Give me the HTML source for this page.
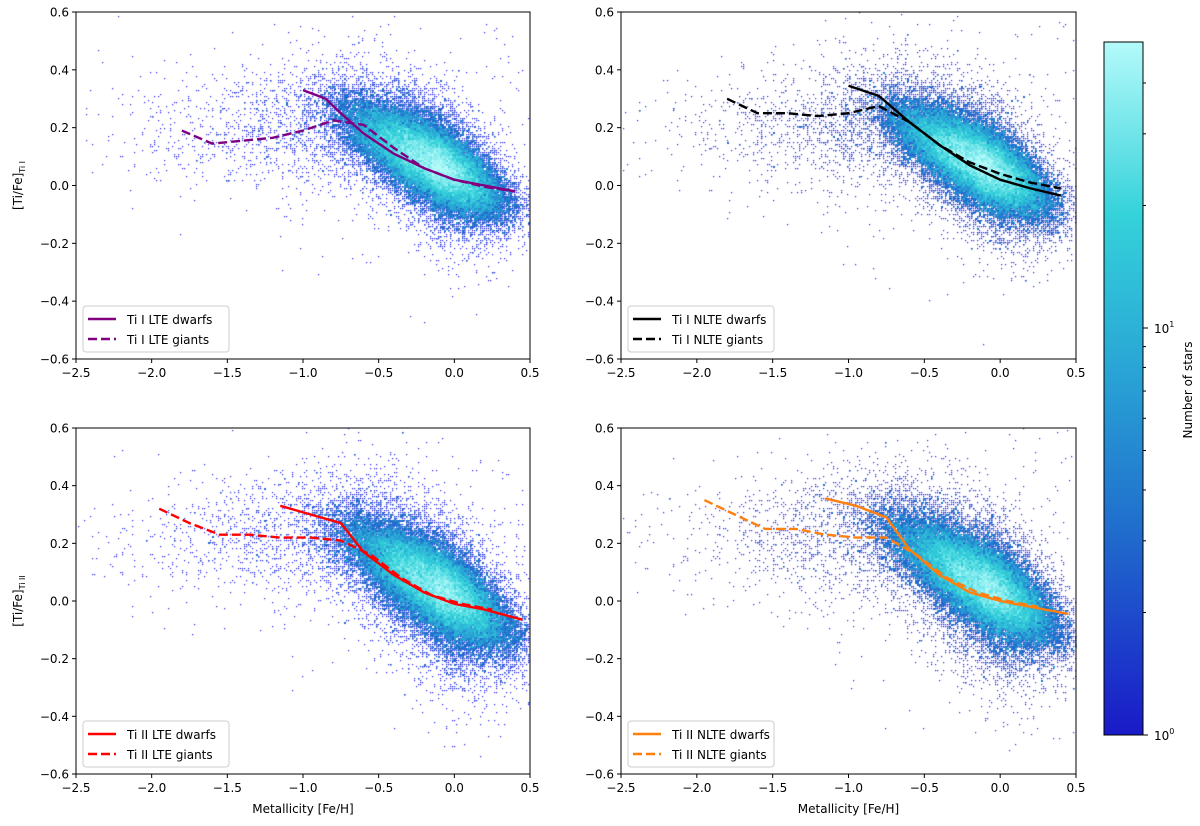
<!DOCTYPE html>
<html><head><meta charset="utf-8">
<style>
html,body{margin:0;padding:0;background:#fff;}
#wrap{position:relative;width:1200px;height:826px;overflow:hidden;font-family:"DejaVu Sans","Liberation Sans",sans-serif;}
canvas{position:absolute;left:0;top:0;}
svg{position:absolute;left:0;top:0;}
</style></head>
<body>
<div id="wrap">
<canvas id="cv" width="1200" height="826"></canvas>
<svg id="sv" width="1200" height="826"></svg>
</div>
<script>
// ---- data ----
const xTicks = [-2.5, -2.0, -1.5, -1.0, -0.5, 0.0, 0.5];
const yTicks = [-0.6, -0.4, -0.2, 0.0, 0.2, 0.4, 0.6];
const xTickLabels = ["\u22122.5","\u22122.0","\u22121.5","\u22121.0","\u22120.5","0.0","0.5"];
const yTickLabels = ["\u22120.6","\u22120.4","\u22120.2","0.0","0.2","0.4","0.6"];

const tlDwarfX = [-1.0,-0.85,-0.75,-0.6,-0.4,-0.2,0.0,0.2,0.4];
const tlDwarfY = [0.33,0.30,0.25,0.18,0.11,0.06,0.02,0.0,-0.02];
const tlGiantX = [-1.8,-1.6,-1.4,-1.2,-1.0,-0.8,-0.6,-0.4,-0.2,0.0,0.2,0.4];
const tlGiantY = [0.19,0.145,0.155,0.165,0.19,0.225,0.21,0.13,0.06,0.02,-0.005,-0.02];

const trDwarfX = [-1.0,-0.8,-0.6,-0.4,-0.2,0.0,0.2,0.4];
const trDwarfY = [0.345,0.31,0.22,0.14,0.07,0.02,-0.01,-0.035];
const trGiantX = [-1.8,-1.6,-1.4,-1.2,-1.0,-0.8,-0.6,-0.4,-0.2,0.0,0.2,0.4];
const trGiantY = [0.30,0.25,0.25,0.24,0.25,0.275,0.22,0.14,0.08,0.04,0.01,-0.01];

const blDwarfX = [-1.15,-0.95,-0.75,-0.6,-0.4,-0.2,0.0,0.2,0.45];
const blDwarfY = [0.33,0.30,0.27,0.17,0.09,0.03,-0.01,-0.03,-0.065];
const blGiantX = [-1.95,-1.75,-1.55,-1.35,-1.15,-0.95,-0.75,-0.55,-0.35,-0.15,0.05,0.25];
const blGiantY = [0.32,0.27,0.23,0.23,0.22,0.22,0.21,0.16,0.08,0.02,-0.01,-0.03];

const brDwarfX = [-1.15,-0.95,-0.75,-0.6,-0.4,-0.2,0.0,0.2,0.45];
const brDwarfY = [0.355,0.33,0.29,0.18,0.09,0.03,0.0,-0.02,-0.045];
const brGiantX = [-1.95,-1.75,-1.55,-1.35,-1.15,-0.95,-0.75,-0.55,-0.35,-0.15,0.05,0.25];
const brGiantY = [0.35,0.30,0.25,0.25,0.23,0.22,0.22,0.16,0.08,0.03,0.0,-0.02];

// cloud model per panel: [centerX, centerY, slope, sdX, sdY]
const cloudTL = [-0.15, 0.08, -0.27, 0.22, 0.055];
const cloudTR = [-0.15, 0.08, -0.27, 0.22, 0.055];
const cloudBL = [-0.12, 0.05, -0.30, 0.23, 0.06];
const cloudBR = [-0.12, 0.06, -0.30, 0.23, 0.06];
const colorbarTicks = [1,2,3,4,5,6,7,8,9,10,20,30,40];

// ---- layout ----
const panels = [
 {name:"top-left", L:76, R:530, T:12, B:359, dx:tlDwarfX, dy:tlDwarfY, gx:tlGiantX, gy:tlGiantY, col:"#800080", lab:["Ti I LTE dwarfs","Ti I LTE giants"], cloud:cloudTL, seed:11, ylab:"I", xlabel:false},
 {name:"top-right", L:621, R:1076, T:12, B:359, dx:trDwarfX, dy:trDwarfY, gx:trGiantX, gy:trGiantY, col:"#000000", lab:["Ti I NLTE dwarfs","Ti I NLTE giants"], cloud:cloudTR, seed:23, ylab:null, xlabel:false},
 {name:"bottom-left", L:76, R:530, T:428, B:774, dx:blDwarfX, dy:blDwarfY, gx:blGiantX, gy:blGiantY, col:"#ff0000", lab:["Ti II LTE dwarfs","Ti II LTE giants"], cloud:cloudBL, seed:37, ylab:"II", xlabel:true},
 {name:"bottom-right", L:621, R:1076, T:428, B:774, dx:brDwarfX, dy:brDwarfY, gx:brGiantX, gy:brGiantY, col:"#ff7f0e", lab:["Ti II NLTE dwarfs","Ti II NLTE giants"], cloud:cloudBR, seed:53, ylab:null, xlabel:true}
];
const cmapStops = [[0,[26,26,200]],[0.3,[32,110,205]],[0.55,[42,170,214]],[0.75,[52,210,218]],[1,[180,250,250]]];
function cmap(t){t=Math.max(0,Math.min(1,t));for(let i=1;i<cmapStops.length;i++){const a=cmapStops[i-1],b=cmapStops[i];if(t<=b[0]){const f=(t-a[0])/(b[0]-a[0]);return a[1].map((v,k)=>Math.round(v+(b[1][k]-v)*f));}}return cmapStops[cmapStops.length-1][1];}
function mulberry(a){return function(){a|=0;a=a+0x6D2B79F5|0;let t=Math.imul(a^a>>>15,1|a);t=t+Math.imul(t^t>>>7,61|t)^t;return((t^t>>>14)>>>0)/4294967296;}}

const NS="http://www.w3.org/2000/svg";
const svg=document.getElementById('sv');
const ctx=document.getElementById('cv').getContext('2d');
function mk(tag,attrs,parent){const e=document.createElementNS(NS,tag);for(const k in attrs)e.setAttribute(k,attrs[k]);(parent||svg).appendChild(e);return e;}

panels.forEach(p=>{
  const sx=v=>p.L+(v+2.5)/3*(p.R-p.L);
  const sy=v=>p.B-(v+0.6)/1.2*(p.B-p.T);
  const rnd=mulberry(p.seed);
  const g=()=>{let u=rnd()||1e-9,v=rnd();return Math.sqrt(-2*Math.log(u))*Math.cos(2*Math.PI*v);};
  const bs=2, W=Math.ceil((p.R-p.L)/bs), H=Math.ceil((p.B-p.T)/bs);
  const grid=new Float32Array(W*H);
  const c=p.cloud;
  const add=(x,y)=>{if(x<-2.5||x>0.5||y<-0.6||y>0.6)return;const i=Math.floor((sx(x)-p.L)/bs),j=Math.floor((sy(y)-p.T)/bs);if(i>=0&&i<W&&j>=0&&j<H)grid[j*W+i]++;};
  for(let n=0;n<42000;n++){
    let x=c[0]+c[3]*g(); if(x<c[0]) x=c[0]-(c[0]-x)*1.2;
    const r=rnd(); const wide=r<0.12?2.2:(r<0.35?1.5:1);
    const y=c[1]+c[2]*(x-c[0])+c[4]*wide*g()-(p.xlabel&&rnd()<0.03?Math.abs(g())*0.15:0);
    add(x,y);
  }
  for(let n=0;n<1400;n++){
    const x=-0.6-Math.abs(g())*0.7;
    const y=0.2+(p.xlabel?0.02:0)+0.11*g();
    add(x,y);
  }
  for(let n=0;n<300;n++){ add(-1.2+1.7*rnd(), c[1]+c[2]*(rnd()*1.5-1.2)+0.22*g()); }
  const lm=Math.log(45);
  for(let j=0;j<H;j++)for(let i=0;i<W;i++){const v=grid[j*W+i];if(!v)continue;
    const col=v<=1?[40,40,235]:cmap(Math.log(v)/lm);
    ctx.fillStyle=`rgb(${col[0]},${col[1]},${col[2]})`;
    const w=v<=1?1.2:(v<=2?1.6:bs);
    ctx.fillRect(p.L+i*bs,p.T+j*bs,w,w);}
  const grp=mk('g',{});
  
  
  const pts=(xs,ys)=>xs.map((x,i)=>sx(x).toFixed(1)+','+sy(ys[i]).toFixed(1)).join(' ');
  const ld=mk('polyline',{points:pts(p.dx,p.dy),fill:'none',stroke:p.col,'stroke-width':2.4},grp);
  
  
  const lg=mk('polyline',{points:pts(p.gx,p.gy),fill:'none',stroke:p.col,'stroke-width':2.4,'stroke-dasharray':'9 4'},grp);
  
  
  const fr=mk('rect',{x:p.L,y:p.T,width:p.R-p.L,height:p.B-p.T,fill:'none',stroke:'#000','stroke-width':1},grp);
  
  
  xTicks.forEach((t,i)=>{const X=sx(t);mk('line',{x1:X,x2:X,y1:p.B,y2:p.B+4,stroke:'#000'},grp);
    const tx=mk('text',{x:X,y:p.B+18,'text-anchor':'middle','font-size':12},grp);tx.textContent=xTickLabels[i];
    
    });
  yTicks.forEach((t,i)=>{const Y=sy(t);mk('line',{x1:p.L-4,x2:p.L,y1:Y,y2:Y,stroke:'#000'},grp);
    const tx=mk('text',{x:p.L-7,y:Y+4.5,'text-anchor':'end','font-size':12},grp);tx.textContent=yTickLabels[i];
    
    });
  const lx=p.L+7, ly=p.B-53;
  const lgd=mk('g',{},grp);
  
  
  mk('rect',{x:lx,y:ly,width:146,height:46,rx:3,fill:'#fff','fill-opacity':0.85,stroke:'#ccc'},lgd);
  mk('line',{x1:lx+5,x2:lx+33,y1:ly+13,y2:ly+13,stroke:p.col,'stroke-width':2.4},lgd);
  mk('line',{x1:lx+5,x2:lx+33,y1:ly+33,y2:ly+33,stroke:p.col,'stroke-width':2.4,'stroke-dasharray':'9 4'},lgd);
  const t1=mk('text',{x:lx+44,y:ly+18,'font-size':12},lgd);t1.textContent=p.lab[0];
  
  
  const t2=mk('text',{x:lx+44,y:ly+38,'font-size':12},lgd);t2.textContent=p.lab[1];
  
  
  if(p.ylab){const cy=(p.T+p.B)/2;
    const yt=mk('text',{x:0,y:0,'font-size':12,'text-anchor':'middle',transform:`translate(22,${cy}) rotate(-90)`},grp);
    yt.innerHTML='[Ti/Fe]<tspan font-size="8" dy="3">Ti '+p.ylab+'</tspan>';
    
    }
  if(p.xlabel){const xt=mk('text',{x:(p.L+p.R)/2,y:813,'font-size':12,'text-anchor':'middle'},grp);xt.textContent='Metallicity [Fe/H]';
    
    }
});

const cbL=1104, cbR=1143, cbT=42, cbB=735, dec=407;
const cbg=mk('g',{});


const defs=mk('defs',{},cbg);
const lgr=mk('linearGradient',{id:'cbgrad',x1:0,y1:1,x2:0,y2:0},defs);
cmapStops.forEach(s=>mk('stop',{offset:s[0],'stop-color':`rgb(${s[1].join(',')})`},lgr));
mk('rect',{x:cbL,y:cbT,width:cbR-cbL,height:cbB-cbT,fill:'url(#cbgrad)',stroke:'#000','stroke-width':1},cbg);
colorbarTicks.forEach(v=>{const Y=cbB-Math.log10(v)*dec;const major=(v===1||v===10);
  mk('line',{x1:cbR,x2:cbR+(major?5:3),y1:Y,y2:Y,stroke:'#000'},cbg);
  if(major){const t=mk('text',{x:cbR+11,y:Y+5,'font-size':12},cbg);t.innerHTML='10<tspan font-size="8" dy="-6">'+(v===1?'0':'1')+'</tspan>';
    
    }});
const cbt=mk('text',{x:0,y:0,'font-size':12,'text-anchor':'middle',transform:'translate(1192,390) rotate(-90)'},cbg);
cbt.textContent='Number of stars';


</script>
</body></html>
